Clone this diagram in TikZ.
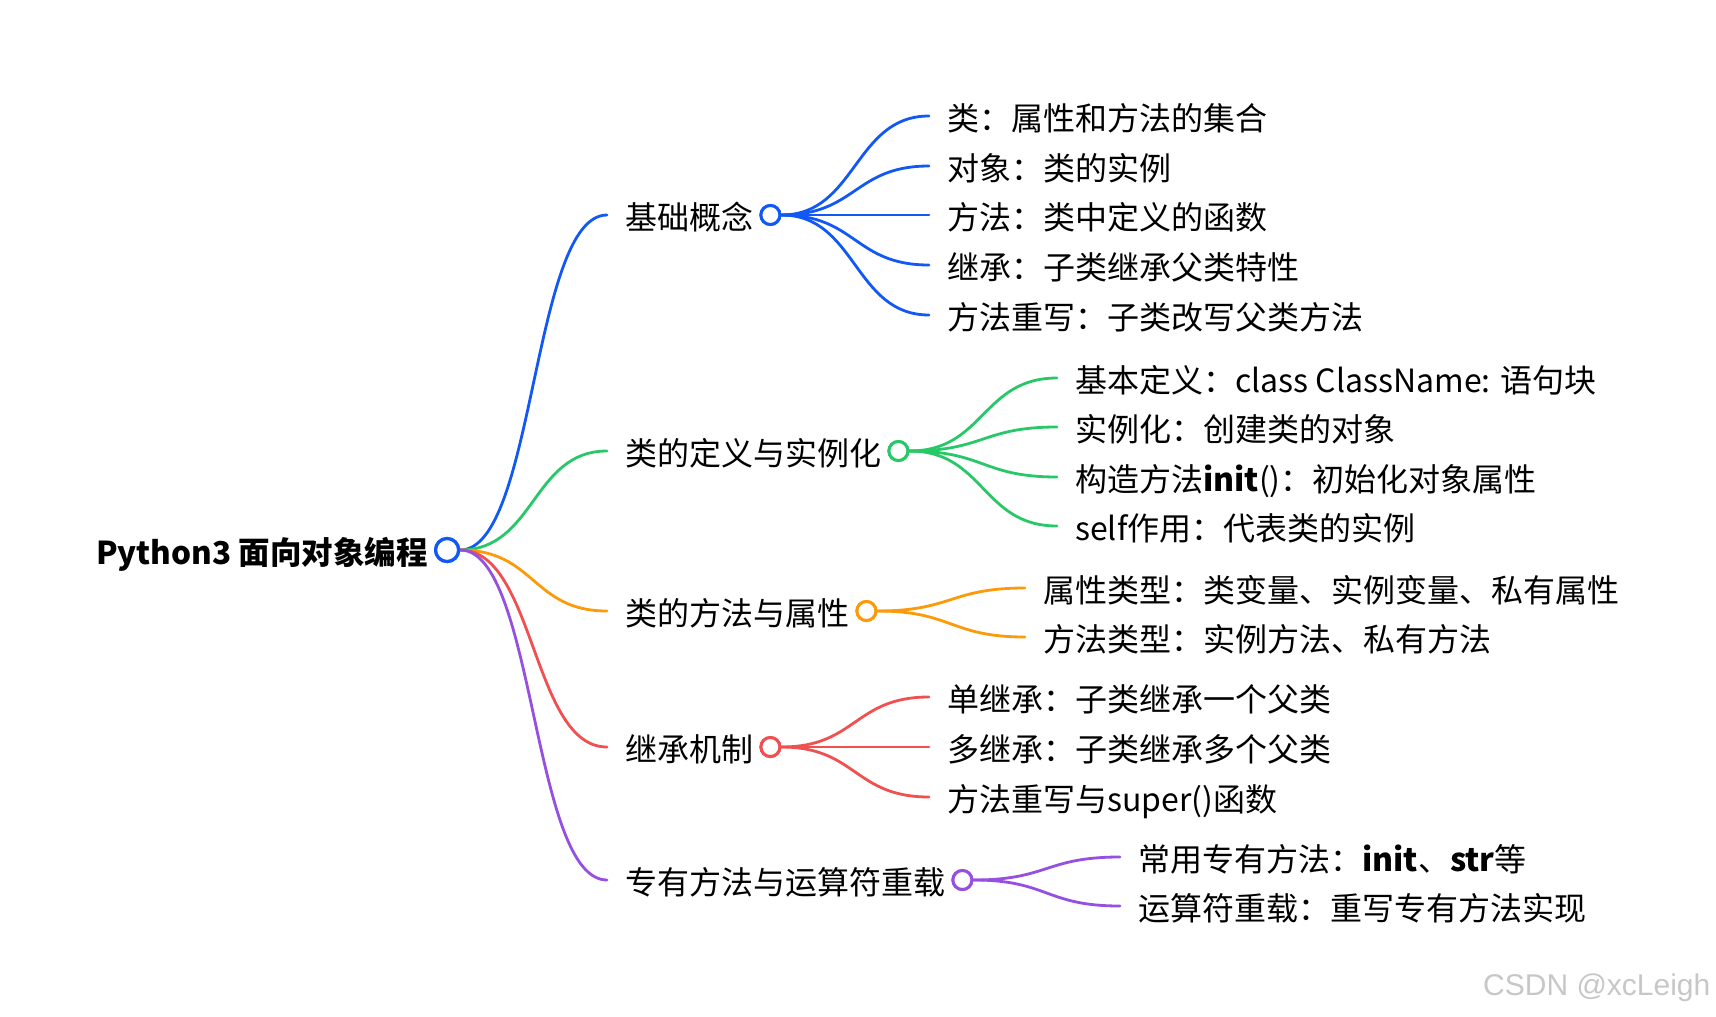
\documentclass[tikz,border=0pt]{standalone}
\usepackage{fontspec}
\setmainfont{Noto Sans CJK SC}
\newfontfamily\markfont{Liberation Sans}
\usepackage{xcolor}
\usepackage{tikz}
\usetikzlibrary{
    positioning,
}
\definecolor{mapblue}{RGB}{18,88,245}
\definecolor{mapgreen}{RGB}{40,200,105}
\definecolor{maporange}{RGB}{252,155,10}
\definecolor{mapred}{RGB}{240,80,80}
\definecolor{mappurple}{RGB}{150,80,225}
\tikzset{
    % Text styles
    topic/.style={anchor=west, inner sep=0pt, text height=31pt, text depth=2pt,
                  font=\fontsize{32}{36}\selectfont},
    root topic/.style={topic, font=\fontsize{31.5}{36}\selectfont\bfseries},
    watermark/.style={anchor=west, inner sep=0pt, text=black!22,
                      font=\markfont\fontsize{30}{34}\selectfont},
    % Knob styles
    knob/.style={circle, line width=3pt, minimum size=19pt, inner sep=0pt, fill=white},
    root knob/.style={knob, line width=3.2pt, minimum size=23pt},
    % Connector styles
    branch/.style={line width=2.8pt, line cap=round},
}

\begin{document}
\begin{tikzpicture}[x=1pt, y=-1pt]
    \useasboundingbox (0,0) rectangle (1716,1017);

    % Root
    \node[root topic] (root) at (96, 550) {Python3 面向对象编程};
    \node[root knob, draw=mapblue, right=6pt of root] (rootk) {};

    % Topics
    \node[topic] (c1) at (625, 215) {基础概念};
    \node[topic] (c2) at (625, 451) {类的定义与实例化};
    \node[topic] (c3) at (625, 611) {类的方法与属性};
    \node[topic] (c4) at (625, 747) {继承机制};
    \node[topic] (c5) at (625, 880) {专有方法与运算符重载};
    \node[knob, draw=mapblue, right=6pt of c1] (c1k) {};
    \node[knob, draw=mapgreen, right=6pt of c2] (c2k) {};
    \node[knob, draw=maporange, right=6pt of c3] (c3k) {};
    \node[knob, draw=mapred, right=6pt of c4] (c4k) {};
    \node[knob, draw=mappurple, right=6pt of c5] (c5k) {};

    % Basic concepts
    \node[topic] (g11) at (947, 116) {类：属性和方法的集合};
    \node[topic] (g12) at (947, 166) {对象：类的实例};
    \node[topic] (g13) at (947, 215) {方法：类中定义的函数};
    \node[topic] (g14) at (947, 265) {继承：子类继承父类特性};
    \node[topic] (g15) at (947, 315) {方法重写：子类改写父类方法};

    % Class definition
    \node[topic] (g21) at (1075, 378) {基本定义：class ClassName: 语句块};
    \node[topic] (g22) at (1075, 427) {实例化：创建类的对象};
    \node[topic] (g23) at (1075, 477) {构造方法\textbf{init}()：初始化对象属性};
    \node[topic] (g24) at (1075, 526) {self作用：代表类的实例};

    % Methods and attributes
    \node[topic] (g31) at (1043, 588) {属性类型：类变量、实例变量、私有属性};
    \node[topic] (g32) at (1043, 637) {方法类型：实例方法、私有方法};

    % Inheritance
    \node[topic] (g41) at (947, 697) {单继承：子类继承一个父类};
    \node[topic] (g42) at (947, 747) {多继承：子类继承多个父类};
    \node[topic] (g43) at (947, 797) {方法重写与super()函数};

    % Special methods
    \node[topic] (g51) at (1138, 857) {常用专有方法：\textbf{init}、\textbf{str}等};
    \node[topic] (g52) at (1138, 906) {运算符重载：重写专有方法实现};

    % Branches
    \draw[branch, mapblue] (rootk.east) .. controls +(75,0) and +(-75,0) .. ([xshift=-18pt]c1.west);
    \draw[branch, mapgreen] (rootk.east) .. controls +(75,0) and +(-75,0) .. ([xshift=-18pt]c2.west);
    \draw[branch, maporange] (rootk.east) .. controls +(75,0) and +(-75,0) .. ([xshift=-18pt]c3.west);
    \draw[branch, mapred] (rootk.east) .. controls +(75,0) and +(-75,0) .. ([xshift=-18pt]c4.west);
    \draw[branch, mappurple] (rootk.east) .. controls +(75,0) and +(-75,0) .. ([xshift=-18pt]c5.west);
    \foreach \g in {g11,g12,g13,g14,g15}
        \draw[branch, mapblue] (c1k.east) .. controls +(75,0) and +(-75,0) .. ([xshift=-18pt]\g.west);
    \foreach \g in {g21,g22,g23,g24}
        \draw[branch, mapgreen] (c2k.east) .. controls +(75,0) and +(-75,0) .. ([xshift=-18pt]\g.west);
    \foreach \g in {g31,g32}
        \draw[branch, maporange] (c3k.east) .. controls +(75,0) and +(-75,0) .. ([xshift=-18pt]\g.west);
    \foreach \g in {g41,g42,g43}
        \draw[branch, mapred] (c4k.east) .. controls +(75,0) and +(-75,0) .. ([xshift=-18pt]\g.west);
    \foreach \g in {g51,g52}
        \draw[branch, mappurple] (c5k.east) .. controls +(75,0) and +(-75,0) .. ([xshift=-18pt]\g.west);

    % Knobs on top
    \node[root knob, draw=mapblue] at (rootk) {};
    \node[knob, draw=mapblue] at (c1k) {};
    \node[knob, draw=mapgreen] at (c2k) {};
    \node[knob, draw=maporange] at (c3k) {};
    \node[knob, draw=mapred] at (c4k) {};
    \node[knob, draw=mappurple] at (c5k) {};

    % Watermark
    \node[watermark] (mark) at (1483, 988) {CSDN @xcLeigh};
\end{tikzpicture}
\end{document}
